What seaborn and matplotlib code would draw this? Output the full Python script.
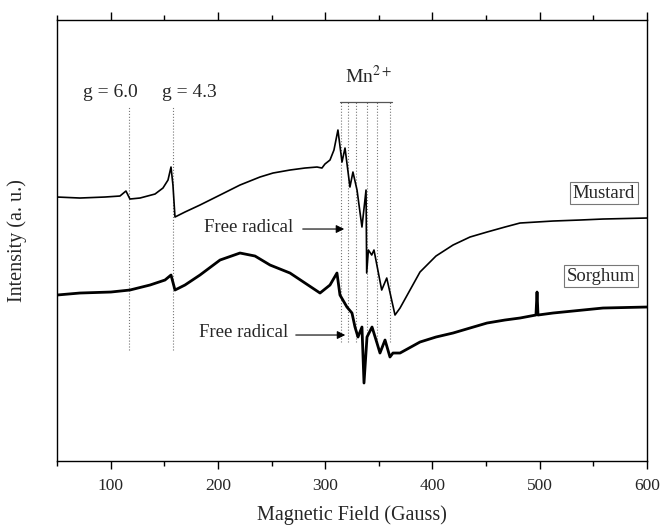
import matplotlib
matplotlib.use('Agg')
import matplotlib.pyplot as plt
import seaborn as sns
import pandas as pd

# EPR spectra (field in Gauss, intensity in arbitrary units)
mustard_field = [50, 71.4, 94.7, 108.7, 114.3, 118, 127.4, 141.4, 148.8, 153.5,
                 156.3, 158.1, 160, 169.3, 183.3, 202, 220.6, 239.2, 251.4, 267.2,
                 281.2, 292.4, 297, 299.8, 304.5, 308.2, 311.9, 315.7, 318.5, 323.1,
                 325.9, 329.7, 334.3, 338.1, 338.7, 340.3, 343.4, 345.5, 352.7, 357.4,
                 365.1, 369.8, 379.1, 388.4, 403.3, 419.2, 435, 450.9, 467.6, 481.6,
                 512.4, 537.6, 559, 600]
mustard_int = [264, 263, 264, 265, 270, 262, 263, 267, 273, 281,
               294, 276, 244, 249, 256, 266, 276, 284, 288, 291,
               293, 294, 293, 297, 301, 311, 331, 299, 313, 274,
               289, 271, 234, 271, 188, 211, 206, 211, 171, 183,
               146, 153, 171, 189, 205, 216, 224, 229, 234, 238,
               240, 241, 242, 243]

sorghum_field = [50, 71.4, 100.3, 118, 136.7, 150.7, 156.3, 160, 169.3, 183.3,
                 202, 220.6, 234.6, 248.6, 267.2, 281.2, 295.2, 304.5, 311, 313.8,
                 320.3, 325, 327.8, 330.6, 334.3, 336.2, 339, 343.7, 348.3, 351.1,
                 355.8, 360.4, 363.2, 369.8, 388.4, 403.3, 419.2, 435, 450.9, 467.6,
                 481.6, 496.5, 497.5, 498.4, 512.4, 559, 600]
sorghum_int = [166, 168, 169, 171, 176, 181, 186, 171, 176, 186,
               201, 208, 205, 196, 188, 178, 168, 176, 188, 166,
               154, 148, 134, 124, 134, 78, 124, 134, 118, 108,
               121, 104, 108, 108, 119, 124, 128, 133, 138, 141,
               143, 146, 169, 146, 148, 153, 154]

g_fields = [117, 158]
g_labels = ['g = 6.0', 'g = 4.3']
g_label_x = [99.5, 173.6]
mn_fields = [314.7, 321.5, 329, 339, 348.5, 360.4]

df_m = pd.DataFrame({'field': mustard_field, 'intensity': mustard_int})
df_s = pd.DataFrame({'field': sorghum_field, 'intensity': sorghum_int})

sns.set_style('white')
plt.rcParams['font.family'] = ['Liberation Serif', 'DejaVu Serif']
plt.rcParams['mathtext.fontset'] = 'stix'

fig = plt.figure(figsize=(6.61, 5.27), dpi=100)
ax = fig.add_axes([0.0862, 0.1252, 0.8926, 0.8368])

# reference lines
for gx in g_fields:
    ax.plot([gx, gx], [111, 355], ls=':', color='#777777', lw=0.8)
for mx in mn_fields:
    ax.plot([mx, mx], [119, 359], ls=':', color='#777777', lw=0.8)
ax.plot([313.8, 362.3], [359, 359], color='#555555', lw=0.9)

sns.lineplot(data=df_m, x='field', y='intensity', sort=False, estimator=None,
             color='black', lw=1.2, ax=ax)
sns.lineplot(data=df_s, x='field', y='intensity', sort=False, estimator=None,
             color='black', lw=2.0, ax=ax)

for lx, txt in zip(g_label_x, g_labels):
    ax.text(lx, 364, txt, ha='center', va='baseline', fontsize=14)
ax.text(340, 378, 'Mn$^{2+}$', ha='center', va='baseline', fontsize=14)

box = dict(boxstyle='square,pad=0.15', fc='white', ec='#777777', lw=0.8)
ax.text(559.9, 268, 'Mustard', ha='center', va='center', fontsize=13.5, bbox=box)
ax.text(557.1, 185, 'Sorghum', ha='center', va='center', fontsize=13.5, bbox=box)

ax.text(270, 234, 'Free radical', ha='right', va='center', fontsize=13.5)
ax.annotate('', xy=(320.3, 232), xytext=(276.5, 232),
            arrowprops=dict(arrowstyle='-|>', color='black', lw=0.8, mutation_scale=12))
ax.text(265.3, 129, 'Free radical', ha='right', va='center', fontsize=13.5)
ax.annotate('', xy=(321.3, 126), xytext=(270, 126),
            arrowprops=dict(arrowstyle='-|>', color='black', lw=0.8, mutation_scale=12))

ax.set_xlim(50, 600)
ax.set_ylim(0, 441)
ax.set_xticks([100, 200, 300, 400, 500, 600])
ax.set_xticks([50, 150, 250, 350, 450, 550], minor=True)
ax.set_yticks([])
ax.tick_params(axis='x', which='both', direction='out', top=True, bottom=True,
               labeltop=False, labelsize=12.5, pad=6, width=1.0, color='black')
ax.tick_params(axis='x', which='major', length=6)
ax.tick_params(axis='x', which='minor', length=3.5)
for sp in ax.spines.values():
    sp.set_visible(True)
    sp.set_color('black')
    sp.set_linewidth(1.0)

ax.set_xlabel('Magnetic Field (Gauss)', fontsize=14.5, labelpad=8)
ax.set_ylabel('Intensity (a. u.)', fontsize=14.5)
ax.yaxis.set_label_coords(-0.051, 0.5)

fig.savefig('out.png', dpi=100)
